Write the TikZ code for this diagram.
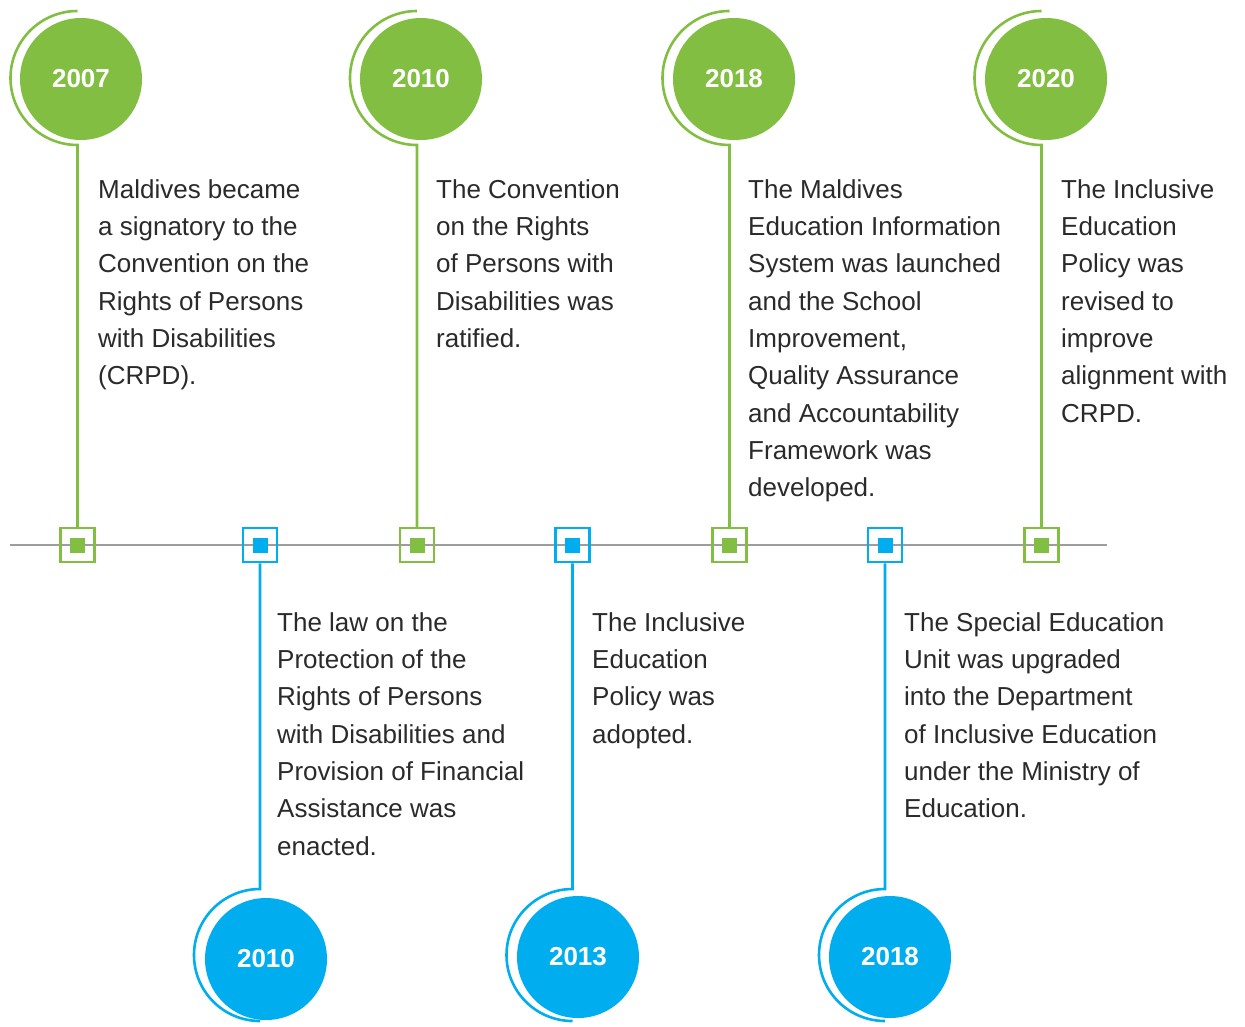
\documentclass[tikz,border=0pt]{standalone}
\usepackage{fontspec}
\setmainfont{Liberation Sans}
\definecolor{tlgreen}{HTML}{82BE41}
\definecolor{tlblue}{HTML}{00AEEF}
\definecolor{tlgray}{HTML}{9D9D9D}
\definecolor{tltext}{HTML}{2A2A2A}
\begin{document}
\begin{tikzpicture}[x=1pt,y=-1pt,
  yearcirc/.style={circle,minimum size=122pt,inner sep=0pt,text=white,font=\fontsize{26}{30}\selectfont\bfseries},
  gyear/.style={yearcirc,fill=tlgreen},
  byear/.style={yearcirc,fill=tlblue},
  outersq/.style={draw,line width=2.5pt,minimum size=34pt,inner sep=0pt},
  gmark/.style={outersq,draw=tlgreen},
  bmark/.style={outersq,draw=tlblue},
  gdot/.style={fill=tlgreen,minimum size=15pt,inner sep=0pt},
  bdot/.style={fill=tlblue,minimum size=15pt,inner sep=0pt},
  gline/.style={draw=tlgreen,line width=2.6pt},
  bline/.style={draw=tlblue,line width=2.6pt},
  desc/.style={anchor=north west,align=left,inner sep=0pt,text=tltext,font=\fontsize{26}{37.35}\selectfont}
]
\useasboundingbox (0,0) rectangle (1245,1026);
% axis
\coordinate (axL) at (10,545);
\coordinate (axR) at (1107,545);
\draw[tlgray,line width=2.6pt] (axL) -- (axR);

% markers
\foreach \n/\x in {g1/77.5,g2/417,g3/729.5,g4/1041.5}{
  \node[gmark] (\n) at (\x,545) {};
  \node[gdot] at (\x,545) {};
}
\foreach \n/\x in {b1/260,b2/572.5,b3/885}{
  \node[bmark] (\n) at (\x,545) {};
  \node[bdot] at (\x,545) {};
}

% top connectors with arcs
\foreach \n/\x in {g1/77.5,g2/417,g3/729.5,g4/1041.5}{
  \coordinate (\n a) at (\x,145);
  \draw[gline] (\n.north) -- (\n a) arc[start angle=90,end angle=270,radius=67];
}
% bottom connectors with arcs
\foreach \n/\x in {b1/260,b2/572.5,b3/885}{
  \coordinate (\n a) at (\x,889);
  \draw[bline] (\n.south) -- (\n a) arc[start angle=270,end angle=90,radius=66];
}

% year circles
\node[gyear] (y2007) at (81,79) {2007};
\node[gyear] (y2010a) at (421,79) {2010};
\node[gyear] (y2018a) at (734,79) {2018};
\node[gyear] (y2020) at (1046,79) {2020};
\node[byear] (y2010b) at (266,959) {2010};
\node[byear] (y2013) at (578,957) {2013};
\node[byear] (y2018b) at (890,957) {2018};

% descriptions
\node[desc] (t1) at (98,179) {Maldives became\\a signatory to the\\Convention on the\\Rights of Persons\\with Disabilities\\(CRPD).};
\node[desc] (t2) at (436,179) {The Convention\\on the Rights\\of Persons with\\Disabilities was\\ratified.};
\node[desc] (t3) at (748,179) {The Maldives\\Education Information\\System was launched\\and the School\\Improvement,\\Quality Assurance\\and Accountability\\Framework was\\developed.};
\node[desc] (t4) at (1061,179) {The Inclusive\\Education\\Policy was\\revised to\\improve\\alignment with\\CRPD.};
\node[desc] (t5) at (277,612) {The law on the\\Protection of the\\Rights of Persons\\with Disabilities and\\Provision of Financial\\Assistance was\\enacted.};
\node[desc] (t6) at (592,612) {The Inclusive\\Education\\Policy was\\adopted.};
\node[desc] (t7) at (904,612) {The Special Education\\Unit was upgraded\\into the Department\\of Inclusive Education\\under the Ministry of\\Education.};
\end{tikzpicture}
\end{document}
